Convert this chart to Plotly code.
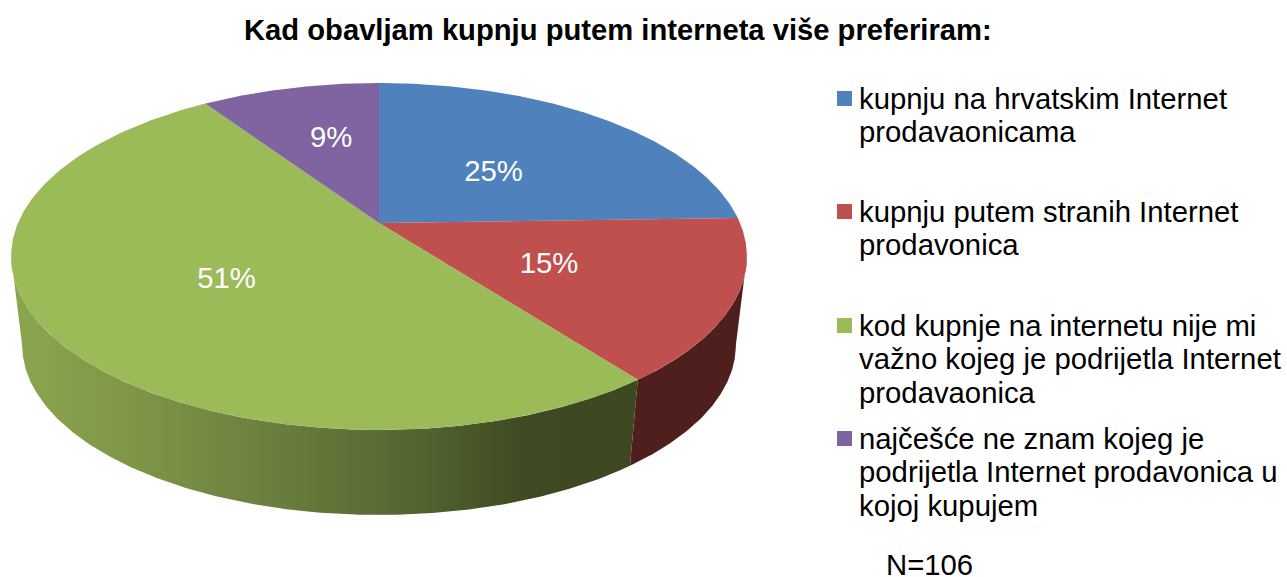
import numpy as np
import plotly.graph_objects as go

# ---- data ----
title_text = "Kad obavljam kupnju putem interneta više preferiram:"
categories = [
    "kupnju na hrvatskim Internet prodavaonicama",
    "kupnju putem stranih Internet prodavonica",
    "kod kupnje na internetu nije mi važno kojeg je podrijetla Internet prodavaonica",
    "najčešće ne znam kojeg je podrijetla Internet prodavonica u kojoj kupujem",
]
legend_lines = [
    ["kupnju na hrvatskim Internet", "prodavaonicama"],
    ["kupnju putem stranih Internet", "prodavonica"],
    ["kod kupnje na internetu nije mi", "važno kojeg je podrijetla Internet", "prodavaonica"],
    ["najčešće ne znam kojeg je", "podrijetla Internet prodavonica u", "kojoj kupujem"],
]
counts = [26, 16, 54, 10]
percent_labels = ["25%", "15%", "51%", "9%"]
note_text = "N=106"

# ---- style ----
top_colors = ["#4F81BD", "#C0504D", "#9BBB59", "#8064A2"]
FONT = "Liberation Sans, Arial, sans-serif"
CX, CY, A, B, P = 379.0, 223.0, 361.0, 167.0, 0.193
label_radius = [0.5, 0.5, 0.5, 0.6]
label_nudge_x = [-3, 0, 3, 9]
label_nudge_y = [7, 5, 6, 3]
legend_swatch_top = [91, 204, 318, 431]
legend_text_first = [98, 211, 325, 438]
LINE_GAP = 33.8


def project(theta, r=1.0):
    """Map a pie angle (deg, clockwise from the back) to the tilted view."""
    t = np.radians(theta)
    u, v = r * np.sin(t), r * np.cos(t)
    d = 1 + P * v
    return CX + A * u / d, CY - B * v / d


def project_bottom(theta):
    x, y = project(theta)
    return CX + (x - CX) * 0.97, 345 + (y - 256.5) * 0.98


def arc(a, b, n=160):
    return np.linspace(a, b, n)


total = sum(counts)
edges = np.cumsum([0] + counts) / total * 360
tangent = np.degrees(np.arccos(-P))  # where the rim is widest

fig = go.Figure()

# side wall: red slice
th = arc(tangent, edges[2])
xt, yt = project(th)
xb, yb = project_bottom(th[::-1])
fig.add_trace(go.Scatter(
    x=np.r_[xt, xb], y=np.r_[yt, yb], mode="lines", fill="toself",
    fillcolor="#4F1F1E", line=dict(width=0), hoverinfo="skip", showlegend=False))

# side wall: green slice with shading
th = arc(edges[2], 360 - tangent, 300)
xt, yt = project(th)
xb, yb = project_bottom(th[::-1])
xs, ys = np.r_[xt, xb], np.r_[yt, yb]
fig.add_trace(go.Scatter(
    x=xs, y=ys, mode="lines", fill="toself", line=dict(width=0),
    fillgradient=dict(
        type="horizontal",
        colorscale=[[0, "#8BA64F"], [0.2, "#7E9546"], [0.4, "#6C8140"],
                    [0.62, "#566832"], [0.82, "#3F4A22"], [1, "#3E4820"]],
    ),
    hoverinfo="skip", showlegend=False))

# top faces
for i, cat in enumerate(categories):
    th = arc(edges[i], edges[i + 1], 200)
    x, y = project(th)
    fig.add_trace(go.Scatter(
        x=np.r_[CX, x, CX], y=np.r_[CY, y, CY], mode="lines", fill="toself",
        fillcolor=top_colors[i], line=dict(width=0), name=cat,
        text=f"{cat}: {percent_labels[i]}", hoverinfo="text", hoveron="fills",
        showlegend=False))

# slice labels
mid = (edges[:-1] + edges[1:]) / 2
lx, ly = project(mid, np.array(label_radius))
fig.add_trace(go.Scatter(
    x=lx + np.array(label_nudge_x), y=ly + np.array(label_nudge_y), mode="text",
    text=percent_labels, textposition="middle center",
    textfont=dict(family=FONT, size=29.3, color="white"),
    hoverinfo="skip", showlegend=False))

# legend swatches and text
for i, lines in enumerate(legend_lines):
    fig.add_shape(type="rect", x0=837, x1=852,
                  y0=legend_swatch_top[i], y1=legend_swatch_top[i] + 15,
                  fillcolor=top_colors[i], line=dict(width=0), layer="above")
    for j, line in enumerate(lines):
        fig.add_annotation(x=859, y=legend_text_first[i] + j * LINE_GAP,
                           text=line, xref="x", yref="y", showarrow=False,
                           xanchor="left", yanchor="middle", align="left",
                           xshift=-2,
                           font=dict(family=FONT, size=29.3, color="black"))

fig.add_annotation(x=929, y=564, text=note_text, xref="x", yref="y", showarrow=False,
                   xanchor="center", yanchor="middle",
                   font=dict(family=FONT, size=29.3, color="black"))

fig.add_annotation(x=618, y=30, text=f"<b>{title_text}</b>", xref="x", yref="y",
                   showarrow=False, xanchor="center", yanchor="middle",
                   font=dict(family=FONT, size=29.2, color="black"))

fig.update_layout(
    width=1287, height=577, margin=dict(l=0, r=0, t=0, b=0),
    paper_bgcolor="white", plot_bgcolor="white", showlegend=False,
    xaxis=dict(range=[0, 1287], visible=False, fixedrange=True),
    yaxis=dict(range=[577, 0], visible=False, fixedrange=True),
)
fig.write_html("out.html", config=dict(displayModeBar=False),
               post_script="document.body.style.margin='0';")
